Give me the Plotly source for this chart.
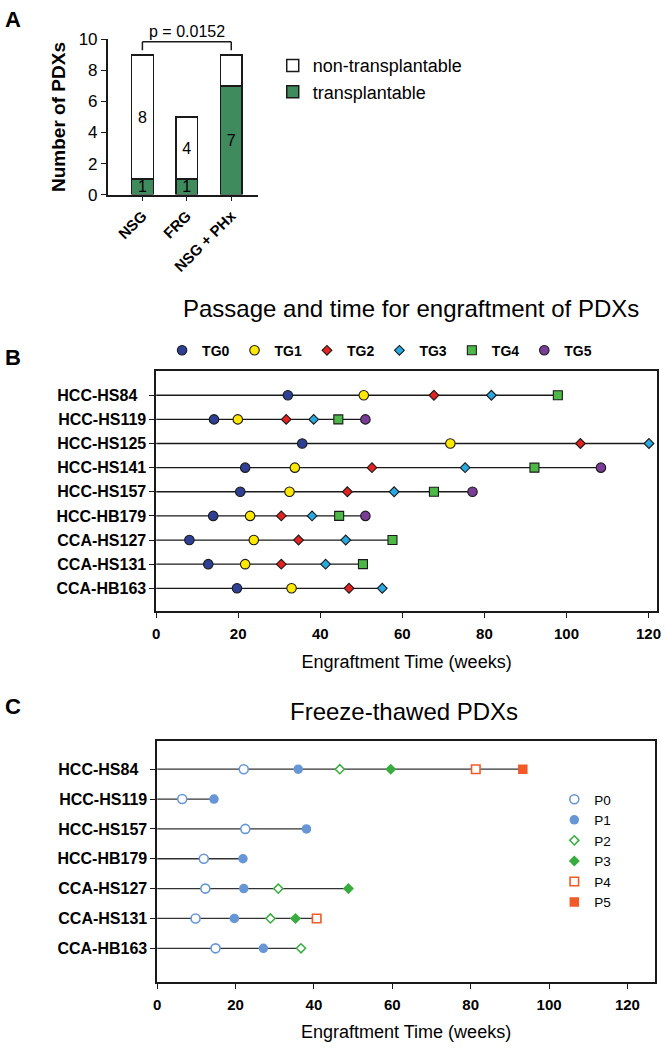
import plotly.graph_objects as go

W, H = 666, 1050
FONT = "Liberation Sans, Arial, sans-serif"
INK = "#1a1a1a"


def fx(p):
    return p / W


def fy(p):
    return 1 - p / H


# ---------------- Panel A data ----------------
groups = ["NSG", "FRG", "NSG + PHx"]
transplantable = [1, 1, 7]
non_transplantable = [8, 4, 2]
transplantable_labels = ["1", "1", "7"]
non_transplantable_labels = ["8", "4", ""]
p_value_text = "p = 0.0152"

# ---------------- Panel B data (weeks) ----------------
models_b = ["HCC-HS84", "HCC-HS119", "HCC-HS125", "HCC-HS141", "HCC-HS157",
            "HCC-HB179", "CCA-HS127", "CCA-HS131", "CCA-HB163"]
tg0 = [32.1, 14.1, 35.6, 21.7, 20.5, 13.9, 8.1, 12.7, 19.7]
tg1 = [50.6, 19.9, 71.7, 33.8, 32.5, 22.9, 23.8, 21.7, 33.0]
tg2 = [67.7, 31.7, 103.4, 52.6, 46.6, 30.5, 34.7, 30.5, 47.0]
tg3 = [81.7, 38.4, 120.1, 75.3, 58.0, 38.0, 46.2, 41.3, 55.1]
tg4 = [97.9, 44.4, None, 92.2, 67.7, 44.6, 57.6, 50.4, None]
tg5 = [None, 51.0, None, 108.4, 77.1, 51.0, None, None, None]
tg_names = ["TG0", "TG1", "TG2", "TG3", "TG4", "TG5"]
ticks_weeks = [0, 20, 40, 60, 80, 100, 120]

# ---------------- Panel C data (weeks) ----------------
models_c = ["HCC-HS84", "HCC-HS119", "HCC-HS157", "HCC-HB179",
            "CCA-HS127", "CCA-HS131", "CCA-HB163"]
p0 = [22.1, 6.4, 22.5, 11.9, 12.3, 9.8, 14.9]
p1 = [36.0, 14.5, 38.1, 21.9, 22.1, 19.7, 27.1]
p2 = [46.6, None, None, None, 30.9, 28.9, 36.7]
p3 = [59.6, None, None, None, 48.8, 35.3, None]
p4 = [81.3, None, None, None, None, 40.7, None]
p5 = [93.3, None, None, None, None, None, None]
p_names = ["P0", "P1", "P2", "P3", "P4", "P5"]

fig = go.Figure()

# ---------------- Panel A ----------------
GREEN = "#3f8b5d"
fig.add_trace(go.Bar(
    x=groups, y=transplantable, name="transplantable",
    marker=dict(color=GREEN, line=dict(color=INK, width=1.5)),
    text=transplantable_labels, textposition="inside", insidetextanchor="middle",
    textangle=0, constraintext="none",
    textfont=dict(size=16, color="black", family=FONT), width=0.49,
    xaxis="x", yaxis="y", legend="legend3", hoverinfo="skip"))
fig.add_trace(go.Bar(
    x=groups, y=non_transplantable, name="non-transplantable",
    marker=dict(color="white", line=dict(color=INK, width=1.5)),
    text=non_transplantable_labels, textposition="inside", insidetextanchor="middle",
    textangle=0, constraintext="none",
    textfont=dict(size=16, color="black", family=FONT), width=0.49,
    xaxis="x", yaxis="y", legend="legend3", hoverinfo="skip"))

# ---------------- Panel B ----------------
b_series = [tg0, tg1, tg2, tg3, tg4, tg5]
for i, m in enumerate(models_b):
    vals = [s[i] for s in b_series if s[i] is not None]
    fig.add_trace(go.Scatter(
        x=[0, max(vals)], y=[m, m], mode="lines",
        line=dict(color=INK, width=1.3), showlegend=False,
        xaxis="x2", yaxis="y2", hoverinfo="skip"))

b_styles = [
    ("circle", "#2e3f94", 9.5),
    ("circle", "#ffe800", 9.5),
    ("diamond", "#e4221f", 7.5),
    ("diamond", "#29a9e0", 7.5),
    ("square", "#4db848", 9),
    ("circle", "#7a3d96", 9.5),
]
for name, s, (sym, col, size) in zip(tg_names, b_series, b_styles):
    fig.add_trace(go.Scatter(
        x=s, y=models_b, mode="markers", name=name,
        marker=dict(symbol=sym, color=col, size=size, line=dict(color=INK, width=1.1)),
        xaxis="x2", yaxis="y2", legend="legend", hoverinfo="skip"))

# ---------------- Panel C ----------------
c_series = [p0, p1, p2, p3, p4, p5]
for i, m in enumerate(models_c):
    vals = [s[i] for s in c_series if s[i] is not None]
    fig.add_trace(go.Scatter(
        x=[0, max(vals)], y=[m, m], mode="lines",
        line=dict(color="#333333", width=1.3), showlegend=False,
        xaxis="x3", yaxis="y3", hoverinfo="skip"))

BLUE = "#6796d6"
GRN = "#39ac3f"
ORG = "#f25a27"
c_styles = [
    ("circle", "white", BLUE, 1.6, 9),
    ("circle", BLUE, BLUE, 0, 9.5),
    ("diamond", "white", GRN, 1.5, 7),
    ("diamond", GRN, GRN, 0, 8.5),
    ("square", "white", ORG, 1.6, 8.5),
    ("square", ORG, ORG, 0, 9.5),
]
for name, s, (sym, fill, lc, lw, size) in zip(p_names, c_series, c_styles):
    fig.add_trace(go.Scatter(
        x=s, y=models_c, mode="markers", name=name,
        marker=dict(symbol=sym, color=fill, size=size, line=dict(color=lc, width=lw)),
        xaxis="x3", yaxis="y3", legend="legend2", hoverinfo="skip"))

axis_common = dict(showgrid=False, zeroline=False, showline=True, linecolor=INK,
                   linewidth=1.5, ticks="outside", tickcolor=INK, tickwidth=1.3)

fig.update_layout(
    width=W, height=H, autosize=False,
    margin=dict(l=0, r=0, t=0, b=0),
    paper_bgcolor="white", plot_bgcolor="white",
    font=dict(family=FONT, color="black"),
    barmode="stack",
    uniformtext=dict(minsize=16, mode="show"),
    xaxis=dict(domain=[fx(105), fx(257)], range=[-0.78, 2.6], anchor="y",
               tickangle=-45, ticklen=5,
               tickfont=dict(size=15, family=FONT, weight="bold"), **axis_common),
    yaxis=dict(domain=[fy(189), fy(31)], range=[0, 10], dtick=2, anchor="x",
               ticklen=5, tickfont=dict(size=17, family=FONT),
               title=dict(text="Number of PDXs", standoff=8,
                          font=dict(size=19, family=FONT, weight="bold")),
               **axis_common),
    xaxis2=dict(domain=[fx(154), fx(661)], range=[0, 122.08], anchor="y2",
                tickvals=ticks_weeks, ticklen=5, mirror=True, ticklabelstandoff=3,
                tickfont=dict(size=15, family=FONT, weight="bold"),
                title=dict(text="Engraftment Time (weeks)", standoff=14,
                           font=dict(size=18, family=FONT)),
                **axis_common),
    yaxis2=dict(domain=[fy(613.3), fy(368.3)], anchor="x2", type="category",
                categoryorder="array", categoryarray=models_b,
                tickvals=models_b,
                ticktext=[m + ("\u00a0\u00a0" if m == "HCC-HS84" else "") for m in models_b],
                range=[8.95, -1.02], ticklen=5, mirror=True,
                tickfont=dict(size=16, family=FONT, weight="bold"), **axis_common),
    xaxis3=dict(domain=[fx(155), fx(659)], range=[0, 127.05], anchor="y3",
                tickvals=ticks_weeks, ticklen=5, mirror=True, ticklabelstandoff=3,
                tickfont=dict(size=15, family=FONT, weight="bold"),
                title=dict(text="Engraftment Time (weeks)", standoff=14,
                           font=dict(size=18, family=FONT)),
                **axis_common),
    yaxis3=dict(domain=[fy(990.7), fy(745)], anchor="x3", type="category",
                categoryorder="array", categoryarray=models_c,
                tickvals=models_c,
                ticktext=[m + ("\u00a0\u00a0" if m == "HCC-HS84" else "") for m in models_c],
                range=[7.12, -0.96], ticklen=5, mirror=True,
                tickfont=dict(size=16, family=FONT, weight="bold"), **axis_common),
    legend=dict(orientation="h", x=fx(160), xanchor="left", y=fy(348), yanchor="middle",
                font=dict(size=14, family=FONT, weight="bold"), bgcolor="rgba(0,0,0,0)",
                borderwidth=0),
    legend2=dict(orientation="v", x=fx(557), xanchor="left", y=fy(857.5), yanchor="middle",
                 font=dict(size=13.5, family=FONT), bgcolor="rgba(0,0,0,0)", borderwidth=0),
    legend3=dict(orientation="v", x=fx(272), xanchor="left", y=fy(71), yanchor="middle",
                 font=dict(size=18, family=FONT), bgcolor="rgba(0,0,0,0)", borderwidth=0,
                 traceorder="reversed"),
)

# p-value bracket
i_a = groups.index("NSG")
i_b = groups.index("NSG + PHx")
bracket = dict(type="line", xref="x", yref="y", line=dict(color=INK, width=1.5))
fig.add_shape(x0=i_a, x1=i_a, y0=9.3, y1=9.85, **bracket)
fig.add_shape(x0=i_a, x1=i_b, y0=9.85, y1=9.85, **bracket)
fig.add_shape(x0=i_b, x1=i_b, y0=9.3, y1=9.85, **bracket)
fig.add_annotation(x=(i_a + i_b) / 2, y=9.85, xref="x", yref="y", text=p_value_text,
                   showarrow=False, yanchor="bottom", yshift=0,
                   font=dict(size=16, family=FONT))

# panel letters and titles
for letter, ypx in [("A", 11), ("B", 355), ("C", 710)]:
    fig.add_annotation(x=fx(9), y=fy(ypx), xref="paper", yref="paper", text=letter,
                       showarrow=False, xanchor="center", yanchor="middle",
                       font=dict(size=22, family=FONT, weight="bold"))
fig.add_annotation(x=fx(412), y=fy(305), xref="paper", yref="paper",
                   text="Passage and time for engraftment of PDXs", showarrow=False,
                   xanchor="center", yanchor="middle", font=dict(size=24, family=FONT))
fig.add_annotation(x=fx(405), y=fy(715), xref="paper", yref="paper",
                   text="Freeze-thawed PDXs", showarrow=False,
                   xanchor="center", yanchor="middle", font=dict(size=24, family=FONT))

fig.write_html(
    "out.html",
    config={"displayModeBar": False},
    post_script="document.body.style.margin='0px';document.body.style.padding='0px';"
                "document.body.style.overflow='hidden';"
                "document.documentElement.style.overflow='hidden';",
)
